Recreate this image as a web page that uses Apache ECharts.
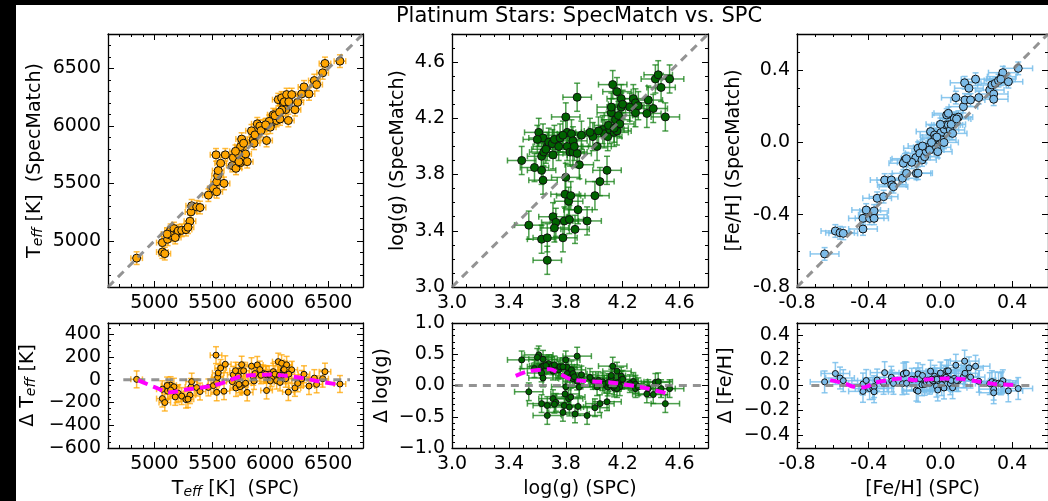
<!DOCTYPE html>
<html><head><meta charset="utf-8">
<script src="https://cdn.jsdelivr.net/npm/echarts@6/dist/echarts.min.js"></script>
<style>html,body{margin:0;padding:0;background:#fff}#c{width:1048px;height:501px}</style>
</head><body><div id="c"></div><script>
// ---------- DATA ----------
const teffSPC = [4847,5069,5069,5090,5114,5140,5169,5192,5206,5236,5273,5307,5316,5322,5365,5394,5466,5509,5538,5538,5546,5551,5601,5572,5532,5612,5672,5681,5704,5724,5744,5753,5759,5787,5801,5740,5838,5853,5868,5888,5968,5940,5968,6011,6026,6055,6084,6069,6098,6113,6141,6133,6156,6185,6213,6237,6271,6291,6334,6380,6400,6452,6472,6601,5910,5990,6040,6100,6120,5860,5920,5140,5180,5110,5290,5700,5730,5770,6000,6080,6160,5960];
const teffSM  = [4851,4986,4904,4890,5015,5093,5108,5065,5088,5093,5099,5172,5253,5306,5297,5291,5399,5458,5428,5515,5568,5612,5501,5676,5749,5749,5656,5725,5632,5757,5821,5886,5711,5757,5690,5680,5958,5880,5923,6019,5874,5996,6011,6026,6098,6048,6061,6229,6244,6200,6273,6142,6048,6273,6142,6206,6279,6340,6279,6395,6360,6462,6544,6564,6000,6040,6090,6140,6210,5850,5960,5050,5030,5060,5120,5780,5690,5850,5990,6120,6210,6010];
const teffErrSPC = 50, teffErrSM = 55;

const loggSPC = [3.49,3.54,3.58,3.61,3.63,3.64,3.63,3.64,3.645,3.67,3.68,3.705,3.71,3.75,3.63,3.67,3.67,3.71,3.73,3.72,3.78,3.79,3.795,3.80,3.80,3.81,3.81,3.82,3.825,3.83,3.835,3.84,3.85,3.85,3.865,3.88,3.88,3.886,3.895,3.91,3.95,3.99,4.02,4.005,4.04,4.06,4.07,4.09,4.095,4.11,4.12,4.12,4.13,4.14,4.15,4.16,4.17,4.18,4.16,4.19,4.19,4.275,4.29,4.29,4.31,4.37,4.38,4.415,4.43,4.45,4.47,4.50,4.53,3.72,3.76,3.78,3.66,3.60,3.86,4.10,4.20,4.25,4.14,3.97,4.03];
const loggSM  = [3.90,3.44,3.85,4.10,3.83,3.76,3.93,4.06,3.96,4.00,4.03,4.02,3.94,4.00,3.34,3.35,3.19,3.50,3.46,3.42,3.35,3.47,3.66,3.78,4.21,4.10,4.00,3.61,3.48,3.96,3.65,4.09,4.04,3.96,3.41,4.35,3.95,3.55,3.87,4.08,3.47,4.07,4.00,3.65,3.75,4.12,4.09,3.83,4.07,4.12,4.24,4.28,4.44,4.10,4.19,4.39,4.22,4.16,4.11,4.34,4.28,4.34,4.31,4.24,4.29,4.235,4.33,4.27,4.48,4.51,4.42,4.21,4.48,4.05,4.06,4.08,3.98,4.05,4.00,4.15,4.30,4.28,4.13,4.10,4.11];
const loggErrSPC = 0.1, loggErrSM = 0.1;

const feSPC = [-0.646,-0.586,-0.56,-0.542,-0.432,-0.432,-0.414,-0.395,-0.377,-0.37,-0.37,-0.353,-0.317,-0.311,-0.274,-0.271,-0.262,-0.212,-0.189,-0.198,-0.207,-0.134,-0.125,-0.137,-0.125,-0.115,-0.103,-0.088,-0.079,-0.07,-0.06,-0.055,-0.042,-0.033,-0.03,-0.022,-0.015,0.003,0.007,0.022,0.031,0.035,0.044,0.055,0.068,0.077,0.044,0.086,0.128,0.137,0.135,0.159,0.168,0.196,0.214,0.275,0.287,0.306,0.324,0.342,0.348,0.337,0.379,0.297,0.297,0.434,-0.02,0.0,-0.1,0.06,-0.16,-0.19,0.1,0.02,-0.05,0.09];
const feSM  = [-0.617,-0.49,-0.50,-0.503,-0.479,-0.42,-0.374,-0.42,-0.40,-0.379,-0.42,-0.309,-0.30,-0.208,-0.208,-0.235,-0.245,-0.198,-0.171,-0.097,-0.115,-0.171,-0.17,-0.084,-0.032,-0.06,-0.097,-0.079,-0.051,-0.027,-0.042,0.06,-0.005,0.041,0.023,-0.027,-0.051,0.054,0.014,0.073,0.097,0.152,0.097,0.069,0.05,0.134,0.161,0.248,0.198,0.235,0.33,0.30,0.235,0.35,0.248,0.29,0.318,0.327,0.342,0.364,0.386,0.35,0.336,0.268,0.239,0.41,0.03,0.10,-0.02,0.10,-0.11,-0.09,0.14,0.0,0.0,0.13];
const feErrSPC = 0.08, feErrSM = 0.035;

// running-mean trend lines (magenta)
const teffTrendX = [4862,4991,5135,5264,5394,5509,5624,5739,5853,5998,6141,6285,6429,6601];
const teffTrendY = [-5,-59,-110,-88,-70,-50,-15,29,41,47,35,15,-15,-44];
const loggTrendX = [3.448,3.525,3.62,3.69,3.76,3.83,3.92,4.04,4.16,4.275,4.39,4.53];
const loggTrendY = [0.153,0.22,0.25,0.26,0.185,0.105,0.074,0.06,0.037,-0.005,-0.057,-0.136];
const feTrendX = [-0.615,-0.527,-0.49,-0.427,-0.362,-0.29,-0.216,-0.143,-0.05,0.022,0.113,0.205,0.297,0.406];
const feTrendY = [0.043,0.013,-0.008,-0.015,0.023,0.043,0.056,0.043,0.051,0.056,0.053,0.033,0.013,0.005];

// reference (gray dashed) line extents
const teffDiag = [4600, 6800], loggDiag = [3.0, 4.8], feDiag = [-0.8, 0.6];
const teffZero = [4732, 6688], loggZero = [3.02, 4.75], feZero = [-0.72, 0.517];

// axis ranges & tick labels
const teffRange = [4600, 6800], loggRange = [3.0, 4.8], feRange = [-0.8, 0.6];
const dTeffRange = [-600, 500], dLoggRange = [-1.0, 1.0], dFeRange = [-0.5, 0.5];
const teffTicks = [5000, 5500, 6000, 6500];
const loggTicks = [3.0, 3.4, 3.8, 4.2, 4.6];
const feTicks = [-0.8, -0.4, 0.0, 0.4];
const dTeffTicks = [-600, -400, -200, 0, 200, 400];
const dLoggTicks = [-1.0, -0.5, 0.0, 0.5, 1.0];
const dFeTicks = [-0.4, -0.2, 0.0, 0.2, 0.4];
const teffMinor = 100, loggMinor = 0.1, feMinor = 0.1, dTeffMinor = 50, dLoggMinor = 0.1, dFeMinor = 0.05;

// ---------- BUILD ----------
const FONT = 'DejaVu Sans';
const FS = 19;
const MINUS = '\u2212';
function steps(r, s) {
  const out = [];
  for (let k = Math.ceil(r[0] / s - 1e-9); k * s <= r[1] + 1e-9; k++) out.push(Math.round(k * s * 1e6) / 1e6);
  return out;
}
const fmtInt = v => String(Math.round(v));
const fmt1 = v => (Math.abs(v) < 1e-9 ? 0 : v).toFixed(1);
const fmtIntM = v => fmtInt(v).replace('-', MINUS);
const fmt1M = v => fmt1(v).replace('-', MINUS);

const rich = { sub: { fontSize: 14, fontStyle: 'italic', fontFamily: FONT, color: '#000', verticalAlign: 'bottom', lineHeight: 15 } };

const panels = [
  { rect: [108, 34, 255, 253], xr: teffRange, yr: teffRange, xt: teffTicks, yt: teffTicks, xm: teffMinor, ym: teffMinor,
    xf: fmtInt, yf: fmtInt, yName: 'T{sub|eff} [K]  (SpecMatch)', yGap: 63, xName: null },
  { rect: [452, 34, 256, 253], xr: loggRange, yr: loggRange, xt: loggTicks, yt: loggTicks, xm: loggMinor, ym: loggMinor,
    xf: fmt1, yf: fmt1, yName: 'log(g) (SpecMatch)', yGap: 44, xName: null },
  { rect: [797, 34, 255, 253], xr: feRange, yr: feRange, xt: feTicks, yt: feTicks, xm: feMinor, ym: feMinor,
    xf: fmt1, yf: fmt1, yName: '[Fe/H] (SpecMatch)', yGap: 53, xName: null },
  { rect: [108, 323, 255, 125], xr: teffRange, yr: dTeffRange, xt: teffTicks, yt: dTeffTicks, xm: teffMinor, ym: dTeffMinor,
    xf: fmtInt, yf: fmtIntM, yName: '\u0394 T{sub|eff} [K]', yGap: 70, xName: 'T{sub|eff} [K]  (SPC)' },
  { rect: [452, 323, 256, 125], xr: loggRange, yr: dLoggRange, xt: loggTicks, yt: dLoggTicks, xm: loggMinor, ym: dLoggMinor,
    xf: fmt1, yf: fmt1M, yName: '\u0394 log(g)', yGap: 60, xName: 'log(g) (SPC)' },
  { rect: [797, 323, 255, 125], xr: feRange, yr: dFeRange, xt: feTicks, yt: dFeTicks, xm: feMinor, ym: dFeMinor,
    xf: fmt1, yf: fmt1M, yName: '\u0394 [Fe/H]', yGap: 61, xName: '[Fe/H] (SPC)' }
];

const grids = [], xAxes = [], yAxes = [];
function axis(gridIndex, pos, range, ticks, len, showLine, labelVals, fmt, extra) {
  const a = {
    type: 'value', gridIndex, position: pos, min: range[0], max: range[1],
    axisLine: { show: showLine, onZero: false, lineStyle: { color: '#000', width: 1.3 } },
    axisTick: { show: true, inside: true, length: len, customValues: ticks, lineStyle: { color: '#000', width: 1 } },
    axisLabel: labelVals ? { show: true, customValues: labelVals, formatter: fmt, color: '#000', fontSize: FS, fontFamily: FONT, margin: 7 } : { show: false },
    splitLine: { show: false }, minorTick: { show: false }
  };
  return Object.assign(a, extra || {});
}
panels.forEach((p, i) => {
  const [l, t, w, h] = p.rect;
  grids.push({ left: l, top: t, width: w, height: h, containLabel: false });
  grids.push({ left: l, top: t, width: w, height: h, containLabel: false });
  const gMain = 2 * i, gMin = 2 * i + 1;
  const xMinors = steps(p.xr, p.xm), yMinors = steps(p.yr, p.ym);
  const xNameCfg = p.xName ? { name: p.xName, nameLocation: 'middle', nameGap: 32,
    nameTextStyle: { fontSize: FS, fontFamily: FONT, color: '#000', verticalAlign: 'top', rich } } : {};
  xAxes.push(axis(gMain, 'bottom', p.xr, p.xt, 6, true, p.xt, p.xf, xNameCfg));
  xAxes.push(axis(gMain, 'top', p.xr, p.xt, 6, true, null));
  xAxes.push(axis(gMin, 'bottom', p.xr, xMinors, 3, false, null));
  xAxes.push(axis(gMin, 'top', p.xr, xMinors, 3, false, null));
  yAxes.push(axis(gMain, 'left', p.yr, p.yt, 6, true, p.yt, p.yf, {
    name: p.yName, nameLocation: 'middle', nameGap: p.yGap,
    nameTextStyle: { fontSize: FS, fontFamily: FONT, color: '#000', rich } }));
  yAxes.push(axis(gMain, 'right', p.yr, p.yt, 6, true, null));
  yAxes.push(axis(gMin, 'left', p.yr, yMinors, 3, false, null));
  yAxes.push(axis(gMin, 'right', p.yr, yMinors, 3, false, null));
});

function errSeries(idx, data, color, cap, lw) {
  return {
    type: 'custom', xAxisIndex: 4 * idx, yAxisIndex: 4 * idx, z: 2, silent: true,
    dimensions: ['x', 'y', 'ex', 'ey'], encode: { x: 0, y: 1 },
    data,
    renderItem: function (params, api) {
      const x = api.value(0), y = api.value(1), ex = api.value(2), ey = api.value(3);
      const L = api.coord([x - ex, y]), R = api.coord([x + ex, y]);
      const B = api.coord([x, y - ey]), T = api.coord([x, y + ey]);
      const st = { stroke: color, lineWidth: lw, fill: null };
      const ln = (x1, y1, x2, y2) => ({ type: 'line', shape: { x1, y1, x2, y2 }, style: st });
      return { type: 'group', children: [
        ln(L[0], L[1], R[0], R[1]), ln(B[0], B[1], T[0], T[1]),
        ln(L[0], L[1] - cap, L[0], L[1] + cap), ln(R[0], R[1] - cap, R[0], R[1] + cap),
        ln(B[0] - cap, B[1], B[0] + cap, B[1]), ln(T[0] - cap, T[1], T[0] + cap, T[1])
      ] };
    }
  };
}
function scatterSeries(idx, data, fill, size) {
  return { type: 'scatter', xAxisIndex: 4 * idx, yAxisIndex: 4 * idx, z: 3, silent: true, symbol: 'circle',
    symbolSize: size, data, itemStyle: { color: fill, borderColor: '#111', borderWidth: 1, opacity: 1 } };
}
function grayLine(idx, data) {
  return { type: 'line', xAxisIndex: 4 * idx, yAxisIndex: 4 * idx, z: 4, silent: true, symbol: 'none', data,
    lineStyle: { color: 'rgba(128,128,128,0.85)', width: 3, type: [8, 6] } };
}
function trendLine(idx, xs, ys) {
  return { type: 'line', xAxisIndex: 4 * idx, yAxisIndex: 4 * idx, z: 5, silent: true, symbol: 'none', smooth: 0.3,
    data: xs.map((x, k) => [x, ys[k]]), lineStyle: { color: '#ff00ff', width: 4, type: [10, 6] } };
}

const sets = [
  { spc: teffSPC, sm: teffSM, ex: teffErrSPC, ey: teffErrSM, fill: '#ffa500', bar: 'rgba(255,165,0,0.75)', diag: teffDiag, zero: teffZero, tx: teffTrendX, ty: teffTrendY },
  { spc: loggSPC, sm: loggSM, ex: loggErrSPC, ey: loggErrSM, fill: '#006400', bar: 'rgba(20,128,20,0.75)', diag: loggDiag, zero: loggZero, tx: loggTrendX, ty: loggTrendY },
  { spc: feSPC, sm: feSM, ex: feErrSPC, ey: feErrSM, fill: '#7cbbe8', bar: 'rgba(120,190,235,0.85)', diag: feDiag, zero: feZero, tx: feTrendX, ty: feTrendY }
];
const series = [];
sets.forEach((s, i) => {
  const top = s.spc.map((x, k) => [x, s.sm[k], s.ex, s.ey]);
  const dErr = Math.sqrt(s.ex * s.ex + s.ey * s.ey);
  const bot = s.spc.map((x, k) => [x, s.sm[k] - x, s.ex, dErr]);
  series.push(errSeries(i, top, s.bar, 3, 1.5));
  series.push(scatterSeries(i, top.map(d => [d[0], d[1]]), s.fill, 8));
  series.push(grayLine(i, [[s.diag[0], s.diag[0]], [s.diag[1], s.diag[1]]]));
  series.push(errSeries(i + 3, bot, s.bar, 3, 1.5));
  series.push(scatterSeries(i + 3, bot.map(d => [d[0], d[1]]), s.fill, 6));
  series.push(grayLine(i + 3, [[s.zero[0], 0], [s.zero[1], 0]]));
  series.push(trendLine(i + 3, s.tx, s.ty));
});

const chart = echarts.init(document.getElementById('c'), null, { renderer: 'canvas', width: 1048, height: 501 });
chart.setOption({
  animation: false,
  backgroundColor: '#fff',
  grid: grids, xAxis: xAxes, yAxis: yAxes, series,
  graphic: [
    { type: 'text', x: 579, y: 17, z: 10, style: { text: 'Platinum Stars: SpecMatch vs. SPC', fontSize: 21, fontFamily: FONT, fill: '#000', textAlign: 'center', textVerticalAlign: 'middle' } },
    { type: 'rect', z: 20, shape: { x: 0, y: 0, width: 1048, height: 5 }, style: { fill: '#000' } },
    { type: 'rect', z: 20, shape: { x: 0, y: 0, width: 16, height: 501 }, style: { fill: '#000' } }
  ]
});
</script></body></html>
